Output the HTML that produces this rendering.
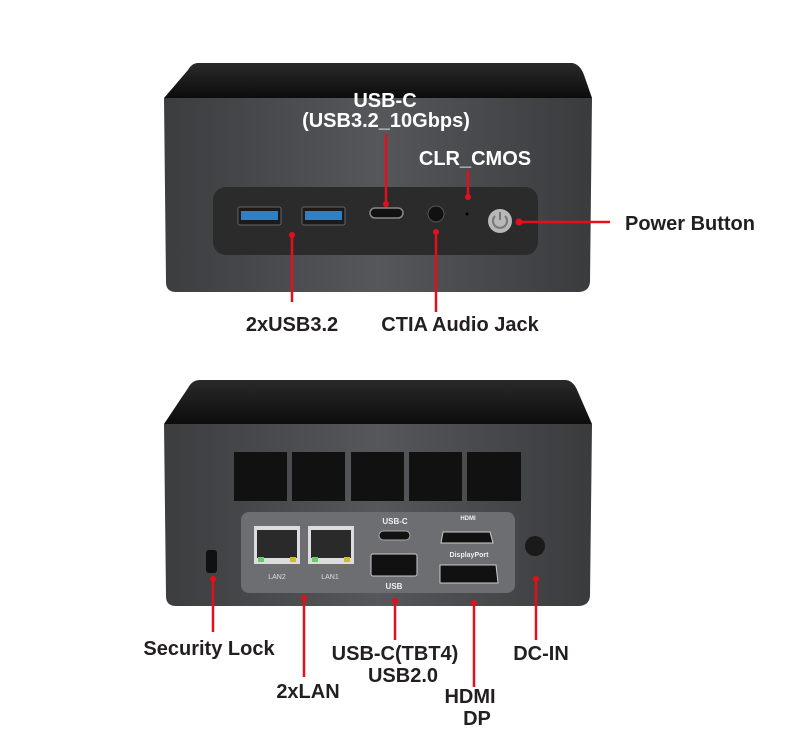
<!DOCTYPE html>
<html><head><meta charset="utf-8"><style>
html,body{margin:0;padding:0;background:#fff;}
svg{display:block;}
text{font-family:"Liberation Sans",sans-serif;font-weight:bold;font-size:20px;text-anchor:middle;}
.d{fill:#231f20;}
.w{fill:#fff;}
.r{stroke:#e3101c;stroke-width:2.5;fill:none;}
.dot{fill:#e3101c;}
</style></head><body>
<svg width="787" height="754" viewBox="0 0 787 754" xmlns="http://www.w3.org/2000/svg">
<defs>
<linearGradient id="top" x1="0" y1="0" x2="0" y2="1"><stop offset="0" stop-color="#2a2a2a"/><stop offset="1" stop-color="#0c0c0c"/></linearGradient>
<linearGradient id="front" x1="0" y1="0" x2="1" y2="0"><stop offset="0" stop-color="#3c3d3f"/><stop offset="0.5" stop-color="#55575a"/><stop offset="1" stop-color="#3a3b3d"/></linearGradient>
</defs>
<!-- TOP DEVICE -->
<path d="M198,63 L572,63 Q580,64 584,75 L592,98 L164,98 L188,70 Q192,63 198,63Z" fill="url(#top)"/>
<path d="M164,98 L592,98 L590,282 Q589,292 578,292 L176,292 Q166,292 166,282Z" fill="url(#front)"/>
<rect x="213" y="187" width="325" height="68" rx="13" fill="#2b2b2c"/>
<rect x="238" y="207" width="43" height="18" rx="2" fill="#1a1a1a" stroke="#666"/>
<rect x="241" y="211" width="37" height="9" fill="#2f7fc4"/>
<rect x="302" y="207" width="43" height="18" rx="2" fill="#1a1a1a" stroke="#666"/>
<rect x="305" y="211" width="37" height="9" fill="#2f7fc4"/>
<rect x="370" y="208" width="33" height="10" rx="5" fill="#111" stroke="#888" stroke-width="1.5"/>
<circle cx="436" cy="214" r="8" fill="#111" stroke="#555"/>
<circle cx="467" cy="214" r="1.5" fill="#000"/>
<circle cx="500" cy="221" r="12" fill="#b8b8b8"/>
<path d="M495,216 A7,7 0 1 0 505,216" stroke="#777" stroke-width="2" fill="none"/>
<line x1="500" y1="212" x2="500" y2="220" stroke="#777" stroke-width="2"/>
<!-- top red -->
<line class="r" x1="292" y1="235" x2="292" y2="302"/><circle class="dot" cx="292" cy="235" r="3"/>
<line class="r" x1="436" y1="232" x2="436" y2="312"/><circle class="dot" cx="436" cy="232" r="3"/>
<line class="r" x1="386" y1="204" x2="386" y2="134"/><circle class="dot" cx="386" cy="204" r="3"/>
<line class="r" x1="468" y1="197" x2="468" y2="170"/><circle class="dot" cx="468" cy="197" r="3"/>
<line class="r" x1="519" y1="222" x2="610" y2="222"/><circle class="dot" cx="519" cy="222" r="3.5"/>
<text class="w" x="385" y="107">USB-C</text>
<text class="w" x="386" y="127">(USB3.2_10Gbps)</text>
<text class="w" x="475" y="165">CLR_CMOS</text>
<text class="d" x="690" y="230">Power Button</text>
<text class="d" x="292" y="331">2xUSB3.2</text>
<text class="d" x="460" y="331">CTIA Audio Jack</text>
<!-- BOTTOM DEVICE -->
<path d="M200,380 L566,380 Q574,381 578,392 L592,424 L164,424 L188,388 Q192,380 200,380Z" fill="url(#top)"/>
<path d="M164,424 L592,424 L590,596 Q589,606 578,606 L176,606 Q166,606 166,596Z" fill="url(#front)"/>
<rect x="234" y="452" width="53" height="49" fill="#111"/>
<rect x="292" y="452" width="53" height="49" fill="#111"/>
<rect x="351" y="452" width="53" height="49" fill="#111"/>
<rect x="409" y="452" width="53" height="49" fill="#111"/>
<rect x="467" y="452" width="54" height="49" fill="#111"/>
<rect x="241" y="512" width="274" height="81" rx="8" fill="#6d6e71"/>
<rect x="254" y="526" width="46" height="38" fill="#ddd"/><rect x="257" y="530" width="40" height="28" fill="#2a2a2a"/>
<rect x="308" y="526" width="46" height="38" fill="#ddd"/><rect x="311" y="530" width="40" height="28" fill="#2a2a2a"/>
<rect x="258" y="557" width="6" height="5" fill="#6c6"/><rect x="290" y="557" width="6" height="5" fill="#cb3"/>
<rect x="312" y="557" width="6" height="5" fill="#6c6"/><rect x="344" y="557" width="6" height="5" fill="#cb3"/>
<text x="277" y="579" style="font-size:7px;font-weight:normal;fill:#ddd">LAN2</text>
<text x="330" y="579" style="font-size:7px;font-weight:normal;fill:#ddd">LAN1</text>
<text x="395" y="524" style="font-size:8px;fill:#eee">USB-C</text>
<rect x="379" y="531" width="31" height="9" rx="4.5" fill="#111" stroke="#aaa"/>
<rect x="371" y="554" width="46" height="22" rx="2" fill="#111" stroke="#ccc"/>
<text x="394" y="589" style="font-size:8px;fill:#eee">USB</text>
<path d="M443,532 L490,532 L493,543 L441,543Z" fill="#111" stroke="#ccc"/>
<text x="468" y="520" style="font-size:6px;fill:#eee">HDMI</text>
<text x="469" y="557" style="font-size:7px;fill:#eee">DisplayPort</text>
<path d="M440,565 L496,565 L498,583 L440,583Z" fill="#111" stroke="#ccc"/>
<circle cx="535" cy="546" r="10" fill="#1a1a1a"/>
<rect x="206" y="550" width="11" height="23" rx="3" fill="#111"/>
<!-- bottom red -->
<line class="r" x1="213" y1="579" x2="213" y2="632"/><circle class="dot" cx="213" cy="579" r="3"/>
<line class="r" x1="304" y1="598" x2="304" y2="677"/><circle class="dot" cx="304" cy="598" r="3"/>
<line class="r" x1="395" y1="601" x2="395" y2="640"/><circle class="dot" cx="395" cy="601" r="3"/>
<line class="r" x1="474" y1="603" x2="474" y2="687"/><circle class="dot" cx="474" cy="603" r="3"/>
<line class="r" x1="536" y1="579" x2="536" y2="640"/><circle class="dot" cx="536" cy="579" r="3"/>
<text class="d" x="209" y="655">Security Lock</text>
<text class="d" x="308" y="698">2xLAN</text>
<text class="d" x="395" y="660">USB-C(TBT4)</text>
<text class="d" x="403" y="682">USB2.0</text>
<text class="d" x="470" y="703">HDMI</text>
<text class="d" x="477" y="725">DP</text>
<text class="d" x="541" y="660">DC-IN</text>
</svg>
</body></html>
